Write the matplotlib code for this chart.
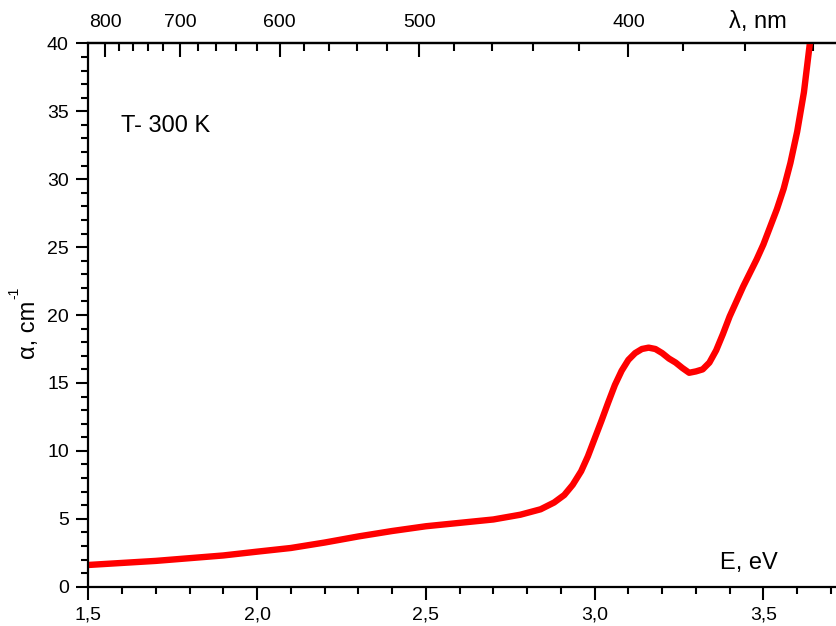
import numpy as np
import matplotlib
matplotlib.use("Agg")
import matplotlib.pyplot as plt
from matplotlib.ticker import FuncFormatter, MultipleLocator

plt.rcParams['font.family'] = ['Liberation Sans', 'DejaVu Sans']

# Данные
energy = [1.50, 1.60, 1.70, 1.80, 1.90, 2.00, 2.10, 2.20, 2.30, 2.40,
          2.50, 2.60, 2.70, 2.78, 2.84, 2.88, 2.91, 2.935, 2.96, 2.98,
          3.00, 3.02, 3.04, 3.06, 3.08, 3.10, 3.12, 3.14, 3.16, 3.18,
          3.20, 3.22, 3.24, 3.26, 3.28, 3.30, 3.32, 3.34, 3.36, 3.38,
          3.40, 3.42, 3.44, 3.46, 3.48, 3.50, 3.52, 3.54, 3.56, 3.58,
          3.60, 3.62, 3.64]
alpha = [1.6, 1.75, 1.9, 2.1, 2.3, 2.58, 2.85, 3.25, 3.7, 4.1,
         4.45, 4.7, 4.95, 5.3, 5.7, 6.2, 6.75, 7.5, 8.5, 9.6,
         10.9, 12.2, 13.55, 14.85, 15.9, 16.7, 17.2, 17.5, 17.6, 17.5,
         17.2, 16.8, 16.5, 16.1, 15.75, 15.85, 16.0, 16.5, 17.4, 18.6,
         19.9, 21.0, 22.1, 23.1, 24.1, 25.2, 26.5, 27.8, 29.3, 31.2,
         33.5, 36.4, 40.5]

wl_major = [800, 700, 600, 500, 400]
wl_minor = [780, 760, 740, 720, 680, 660, 640, 620, 580, 560, 540, 520,
            480, 460, 440, 420, 380, 360, 340]

fig = plt.figure(figsize=(8.37, 6.26), dpi=100)
ax = fig.add_axes([88.3 / 837, 1 - 586.7 / 626, 1 - 88.3 / 837, (586.7 - 43.4) / 626])

ax.plot(energy, alpha, color='#ff0000', lw=4.6, solid_capstyle='round',
        solid_joinstyle='round')

ax.set_xlim(1.5, 3.718)
ax.set_ylim(0, 40)
ax.xaxis.set_major_locator(MultipleLocator(0.5))
ax.xaxis.set_minor_locator(MultipleLocator(0.1))
ax.yaxis.set_major_locator(MultipleLocator(5))
ax.yaxis.set_minor_locator(MultipleLocator(1))
ax.xaxis.set_major_formatter(FuncFormatter(lambda v, p: f"{v:.1f}".replace('.', ',')))

ax.spines['right'].set_visible(False)
for s in ['left', 'bottom', 'top']:
    ax.spines[s].set_linewidth(1.6)
ax.tick_params(which='major', length=9, width=1.5, labelsize=14)
ax.tick_params(which='minor', length=5, width=1.5)
ax.tick_params(axis='x', which='both', top=False, pad=5)
ax.tick_params(axis='y', which='both', right=False, pad=5)


def e2l(e):
    e = np.asarray(e, dtype=float)
    with np.errstate(divide='ignore'):
        return 1240.0 / e


sec = ax.secondary_xaxis('top', functions=(e2l, e2l))
sec.set_xticks(wl_major)
sec.set_xticks(wl_minor, minor=True)
sec.xaxis.set_major_formatter(FuncFormatter(lambda v, p: f"{v:.0f}"))
sec.tick_params(which='major', direction='in', length=10, width=1.5, labelsize=14, pad=9)
sec.tick_params(which='minor', direction='in', length=6, width=1.5)
sec.spines['top'].set_linewidth(1.6)

fig.text(121 / 837, 1 - 126 / 626, "T- 300 K", fontsize=17, va='center', ha='left')
fig.text(758 / 837, 1 - 22 / 626, "λ, nm", fontsize=17, ha='center', va='center')
fig.text(749 / 837, 1 - 563 / 626, "E, eV", fontsize=17, ha='center', va='center')
# подпись оси Y с маленьким показателем степени
fig.text(29 / 837, 1 - 330 / 626, "α, cm", fontsize=17, rotation=90,
         ha='center', va='center')
fig.text(14 / 837, 1 - 293 / 626, "-1", fontsize=10, rotation=90,
         ha='center', va='center')

fig.savefig("out.png", dpi=100)
